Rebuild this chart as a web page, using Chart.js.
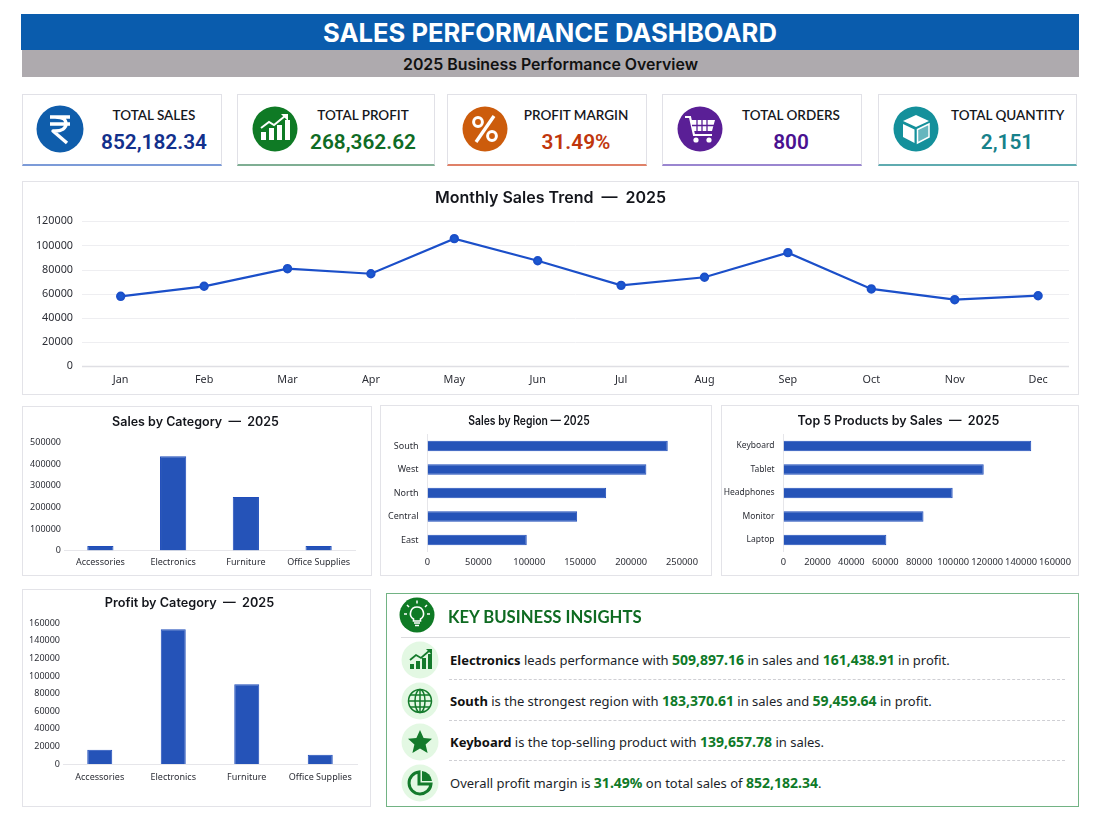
<!DOCTYPE html>
<html>
<head>
<meta charset="utf-8">
<title>Sales Performance Dashboard</title>
<style>
html, body { margin: 0; padding: 0; background: #fff; }
body { width: 1100px; height: 825px; position: relative; overflow: hidden; font-family: "Noto Sans", sans-serif; color: #16181f; }
.abs, .card, .panel, canvas { position: absolute; }
#head1 { left: 21px; top: 14px; width: 1058px; height: 36px; background: #0a5cad; color: #fff; text-align: center; font: 700 25.6px/38px Inter, sans-serif; }
#head2 { left: 22px; top: 50px; width: 1057px; height: 27px; background: #aeaaae; color: #111; text-align: center; font: 600 15.9px/30px Inter, sans-serif; }
.card { top: 94px; height: 69px; box-sizing: content-box; background: #fff; border: 1.5px solid #e1e1e7; border-bottom: 2px solid #888; }
.card .lab { position: absolute; top: 11px; text-align: center; font: 600 13.5px/18px Lato, sans-serif; color: #15171c; white-space: nowrap; }
.card .val { position: absolute; top: 33px; text-align: center; font: 600 20.8px/28px Roboto, sans-serif; white-space: nowrap; }
.card svg { position: absolute; top: 11px; }
.panel { background: #fff; border: 1.5px solid #e3e3e8; box-sizing: border-box; }
.ttl { position: absolute; transform: translate(-50%, -50%); font: 600 12.5px/16px Inter, sans-serif; color: #14161c; white-space: pre; }
#insights { left: 386px; top: 593px; width: 693px; height: 214px; border: 1.5px solid #72b384; }
#insTitle { position: absolute; left: 448px; top: 606px; font: 700 16.7px/22px Lato, sans-serif; color: #0f6b22; white-space: nowrap; }
.rule { position: absolute; height: 0; }
.row { position: absolute; left: 450px; font: 400 13px/18px "Noto Sans", sans-serif; color: #1c1f2b; white-space: nowrap; }
.row b { font-weight: 700; color: #111; }
.row i { font-style: normal; font-weight: 700; font-size: 14px; color: #0f7a28; }
</style>
</head>
<body>

<div id="head1" class="abs">SALES PERFORMANCE DASHBOARD</div>
<div id="head2" class="abs">2025 Business Performance Overview</div>

<div class="card" style="left:22px;width:198px;border-bottom-color:#7c9bd8">
  <svg width="48" height="48" viewBox="0 0 48 48" style="left:13px;top:10px"><circle cx="24" cy="24" r="23.5" fill="#0f5dab"/><path d="M14 12H34M14 19H34M19 12c9 0 11 3 11 7s-4 7-11 7h-2l14 12" fill="none" stroke="#fff" stroke-width="3.4" stroke-linejoin="round"/></svg>
  <div class="lab" style="left:72px;width:118px">TOTAL SALES</div>
  <div class="val" style="left:72px;width:118px;color:#12308c">852,182.34</div>
</div>
<div class="card" style="left:237px;width:196px;border-bottom-color:#7fae93">
  <svg width="46" height="46" viewBox="0 0 46 46" style="left:14px"><circle cx="23" cy="23" r="22.5" fill="#0f7a25"/><path d="M9 34V26h5v8zM17 34V22h5v12zM25 34V19h5v15zM33 34V14h5v20z" fill="#fff"/><path d="M9 22l8-6 5 3 11-9" fill="none" stroke="#fff" stroke-width="2"/><path d="M29 8h7v7z" fill="#fff"/></svg>
  <div class="lab" style="left:72px;width:106px">TOTAL PROFIT</div>
  <div class="val" style="left:60px;width:130px;color:#0f6b24">268,362.62</div>
</div>
<div class="card" style="left:447px;width:198px;border-bottom-color:#df8168">
  <svg width="46" height="46" viewBox="0 0 46 46" style="left:14px"><circle cx="23" cy="23" r="22.5" fill="#cc5c0c"/><circle cx="16" cy="16" r="4.4" fill="none" stroke="#fff" stroke-width="3"/><circle cx="30" cy="30" r="4.4" fill="none" stroke="#fff" stroke-width="3"/><path d="M32 10L14 36" stroke="#fff" stroke-width="3.4"/></svg>
  <div class="lab" style="left:70px;width:116px">PROFIT MARGIN</div>
  <div class="val" style="left:70px;width:116px;color:#c0360c">31.49%</div>
</div>
<div class="card" style="left:662px;width:198px;border-bottom-color:#9a86d0">
  <svg width="46" height="46" viewBox="0 0 46 46" style="left:14px"><circle cx="23" cy="23" r="22.5" fill="#5a1f96"/><path d="M8 11h5l4 18h18" fill="none" stroke="#fff" stroke-width="2.2"/><path d="M14 14H38L35 25H16z" fill="#fff"/><path d="M20 14v11M25 14v11M30 14v11M15 19.500H37" stroke="#5a1f96" stroke-width="1.3"/><circle cx="19" cy="34" r="2.600" fill="#fff"/><circle cx="32" cy="34" r="2.600" fill="#fff"/></svg>
  <div class="lab" style="left:70px;width:116px">TOTAL ORDERS</div>
  <div class="val" style="left:70px;width:116px;color:#4a1190">800</div>
</div>
<div class="card" style="left:878px;width:197px;border-bottom-color:#5fabb0">
  <svg width="46" height="46" viewBox="0 0 46 46" style="left:14px"><circle cx="23" cy="23" r="22.500" fill="#14909b"/><path d="M23 9l13 6-13 6-13-6z" fill="#fff"/><path d="M10 18l11.500 5.500V37L10 31z" fill="#fff"/><path d="M36 18L24.500 23.500V37L36 31z" fill="#fff" fill-opacity=".35" stroke="#fff" stroke-width="1.500"/></svg>
  <div class="lab" style="left:72px;width:112px">TOTAL QUANTITY</div>
  <div class="val" style="left:72px;width:112px;color:#17818a">2,151</div>
</div>

<div class="panel" style="left:22px;top:181px;width:1057px;height:214px"></div>
<div class="panel" style="left:22px;top:406px;width:350px;height:170px"></div>
<div class="panel" style="left:380px;top:405px;width:332px;height:171px"></div>
<div class="panel" style="left:721px;top:405px;width:358px;height:171px"></div>
<div class="panel" style="left:22px;top:589px;width:349px;height:218px"></div>

<canvas id="trendChart" width="1063" height="212" style="left:23px;top:182px"></canvas>
<canvas id="catSalesChart" width="348" height="168" style="left:23px;top:407px"></canvas>
<canvas id="regionChart" width="330" height="169" style="left:381px;top:406px"></canvas>
<canvas id="productChart" width="356" height="169" style="left:722px;top:406px"></canvas>
<canvas id="catProfitChart" width="347" height="216" style="left:23px;top:590px"></canvas>

<div class="ttl" style="left:550.5px;top:197px;font-size:16px;line-height:20px">Monthly Sales Trend  —  2025</div>
<div class="ttl" style="left:195.5px;top:422px">Sales by Category  —  2025</div>
<div class="ttl" style="left:528.5px;top:421px;transform:translate(-50%,-50%) scaleX(.83)">Sales by Region — 2025</div>
<div class="ttl" style="left:898.5px;top:420.5px">Top 5 Products by Sales  —  2025</div>
<div class="ttl" style="left:189.5px;top:603px;font-size:12.7px">Profit by Category  —  2025</div>

<div id="insights" class="panel"></div>
<svg class="abs" width="36" height="36" viewBox="0 0 36 36" style="left:399px;top:597px"><circle cx="18" cy="18" r="17.500" fill="#0f7a25"/><path d="M18 10a6.500 6.500 0 0 0-3.500 12v2h7v-2A6.500 6.500 0 0 0 18 10z" fill="none" stroke="#fff" stroke-width="1.600"/><path d="M15 26h6M16 28.500h4M18 3.500v3M8 8l2 2M28 8l-2 2M5 17h3M28 17h3" stroke="#fff" stroke-width="1.500"/></svg>
<div id="insTitle">KEY BUSINESS INSIGHTS</div>
<div class="rule" style="left:401px;top:637px;width:669px;border-top:1.5px solid #dcdcdf"></div>
<div class="rule" style="left:449px;top:679px;width:616px;border-top:1px dashed #cfcfd4"></div>
<div class="rule" style="left:449px;top:720px;width:616px;border-top:1px dashed #cfcfd4"></div>
<div class="rule" style="left:449px;top:760px;width:616px;border-top:1px dashed #cfcfd4"></div>

<svg class="abs" width="38" height="38" viewBox="0 0 38 38" style="left:401px;top:641px"><circle cx="19" cy="19" r="18.500" fill="#e3f8e3"/><path d="M9 28v-5h4v5zM15 28v-8h4v8zM21 28V17h4v11zM27 28V13h4v15z" fill="#137a2b"/><path d="M9 19l6-5 5 3 8-7" fill="none" stroke="#137a2b" stroke-width="1.800"/><path d="M25 8h6v6z" fill="#137a2b"/></svg>
<svg class="abs" width="38" height="38" viewBox="0 0 38 38" style="left:401px;top:682px"><circle cx="19" cy="19" r="18.500" fill="#e3f8e3"/><g fill="none" stroke="#137a2b" stroke-width="1.500"><circle cx="19" cy="19" r="11.500"/><ellipse cx="19" cy="19" rx="5" ry="11.500"/><path d="M19 7.500v23M7.500 19h23M9 13h20M9 25h20"/></g></svg>
<svg class="abs" width="38" height="38" viewBox="0 0 38 38" style="left:401px;top:723px"><circle cx="19" cy="19" r="18.500" fill="#e3f8e3"/><path d="M19 7l3.600 8 8.400.8-6.400 5.600 2 8.600L19 25.500 11.400 30l2-8.600L7 15.800l8.400-.8z" fill="#137a2b"/></svg>
<svg class="abs" width="38" height="38" viewBox="0 0 38 38" style="left:401px;top:764px"><circle cx="19" cy="19" r="18.500" fill="#e3f8e3"/><path d="M18 8a11 11 0 1 0 12 12H18z" fill="none" stroke="#137a2b" stroke-width="3"/><path d="M21 7a11 11 0 0 1 10 10H21z" fill="#137a2b"/></svg>

<div class="row" style="top:651px"><b>Electronics</b> leads performance with <i>509,897.16</i> in sales and <i>161,438.91</i> in profit.</div>
<div class="row" style="top:692px"><b>South</b> is the strongest region with <i>183,370.61</i> in sales and <i>59,459.64</i> in profit.</div>
<div class="row" style="top:733px"><b>Keyboard</b> is the top-selling product with <i>139,657.78</i> in sales.</div>
<div class="row" style="top:774px">Overall profit margin is <i>31.49%</i> on total sales of <i>852,182.34</i>.</div>

<script src="https://cdn.jsdelivr.net/npm/chart.js"></script>
<script>
const months = ['Jan', 'Feb', 'Mar', 'Apr', 'May', 'Jun', 'Jul', 'Aug', 'Sep', 'Oct', 'Nov', 'Dec'];
const monthlySales = [57800, 66100, 80700, 76500, 105600, 87300, 66900, 73600, 94000, 63900, 55000, 58300];

const categories = ['Accessories', 'Electronics', 'Furniture', 'Office Supplies'];
const categorySales = [21000, 437000, 248000, 21000];
const categoryProfit = [16300, 153200, 90600, 10600];

const regions = ['South', 'West', 'North', 'Central', 'East'];
const regionSales = [236000, 215000, 175500, 147000, 97500];

const products = ['Keyboard', 'Tablet', 'Headphones', 'Monitor', 'Laptop'];
const productSales = [146000, 118000, 99700, 82500, 60600];

const BLUE = '#2553b8';
const AXIS_FONT = 'Noto Sans';

// gridlines in the trend chart stop short of the plot edges, so draw them from the y scale
const wideGrid = {
    id: 'wideGrid',
    beforeDatasetsDraw(chart, args, opts) {
        const y = chart.scales.y;
        const c = chart.ctx;
        c.save();
        y.ticks.forEach(t => {
            const py = Math.round(y.getPixelForValue(t.value)) + 0.5;
            c.strokeStyle = t.value === 0 ? '#dfdfe4' : '#eeeef1';
            c.lineWidth = t.value === 0 ? 1.5 : 1;
            c.beginPath();
            c.moveTo(opts.from, py);
            c.lineTo(opts.to, py);
            c.stroke();
        });
        c.restore();
    }
};

function fixY(w) { return s => { s.width = w; }; }
function fixX(h) { return s => { s.height = h; }; }
function plainNumber(v) { return String(v); }

new Chart(document.getElementById('trendChart'), {
    type: 'line',
    data: {
        labels: months,
        datasets: [{
            data: monthlySales,
            borderColor: '#1b4fc9',
            backgroundColor: '#1b58d0',
            borderWidth: 2.2,
            pointRadius: 3.6,
            tension: 0
        }]
    },
    plugins: [wideGrid],
    options: {
        responsive: false,
        animation: false,
        layout: { padding: { top: 39.3, left: 0, right: 1.3, bottom: 0 } },
        plugins: {
            legend: { display: false },
            tooltip: { enabled: false },
            wideGrid: { from: 59, to: 1046 }
        },
        scales: {
            x: {
                offset: true,
                afterFit: fixX(28),
                grid: { display: false, drawTicks: false },
                border: { display: false },
                ticks: { color: '#2c2e36', font: { family: AXIS_FONT, size: 10.8 }, padding: 7.5, maxRotation: 0, autoSkip: false }
            },
            y: {
                min: 0, max: 120000,
                afterFit: fixY(56),
                grid: { display: false, drawTicks: false },
                border: { display: false },
                ticks: { stepSize: 20000, color: '#2c2e36', font: { family: AXIS_FONT, size: 10.8 }, padding: 6, callback: plainNumber }
            }
        }
    }
});

function barChart(id, labels, values, cfg) {
    const horizontal = cfg.horizontal;
    const valueAxis = {
        min: 0, max: cfg.max,
        grid: { display: false, drawTicks: false },
        border: { display: false },
        ticks: { stepSize: cfg.step, color: '#2c2e36', font: { family: AXIS_FONT, size: horizontal ? 9.3 : 9 }, padding: horizontal ? 5 : 3, maxRotation: 0, autoSkip: false, callback: plainNumber }
    };
    const catAxis = {
        grid: { display: false, drawTicks: false },
        border: { display: true, color: '#e6e6ea' },
        ticks: { color: '#2c2e36', font: { family: AXIS_FONT, size: cfg.catSize || 9 }, padding: horizontal ? 9 : cfg.catPad, maxRotation: 0, autoSkip: false }
    };
    const xAxis = horizontal ? valueAxis : catAxis;
    const yAxis = horizontal ? catAxis : valueAxis;
    xAxis.afterFit = fixX(cfg.xh);
    yAxis.afterFit = fixY(cfg.yw);

    return new Chart(document.getElementById(id), {
        type: 'bar',
        data: {
            labels: labels,
            datasets: [{
                data: values,
                backgroundColor: BLUE,
                borderColor: '#1f4dbb',
                borderWidth: 1,
                categoryPercentage: 1,
                barPercentage: cfg.bar
            }]
        },
        options: {
            indexAxis: horizontal ? 'y' : 'x',
            responsive: false,
            animation: false,
            layout: { padding: cfg.pad },
            plugins: {
                legend: { display: false },
                tooltip: { enabled: false }
            },
            scales: { x: xAxis, y: yAxis }
        }
    });
}

barChart('catSalesChart', categories, categorySales, {
    max: 500000, step: 100000, bar: 0.36, catPad: 7,
    yw: 41, xh: 24.5, pad: { top: 35.7, left: 0, right: 16, bottom: 0 }
});
barChart('regionChart', regions, regionSales, {
    horizontal: true,
    max: 250000, step: 50000, bar: 0.44,
    yw: 46.5, xh: 23.25, pad: { top: 28.25, left: 0, right: 29, bottom: 0 }
});
barChart('productChart', products, productSales, {
    horizontal: true,
    max: 160000, step: 20000, bar: 0.44, catSize: 8.5,
    yw: 61.5, xh: 23.25, pad: { top: 28.25, left: 0, right: 23, bottom: 0 }
});
barChart('catProfitChart', categories, categoryProfit, {
    max: 160000, step: 20000, bar: 0.34, catPad: 8,
    yw: 40, xh: 42, pad: { top: 33.3, left: 0, right: 13, bottom: 0 }
});
</script>
</body>
</html>
